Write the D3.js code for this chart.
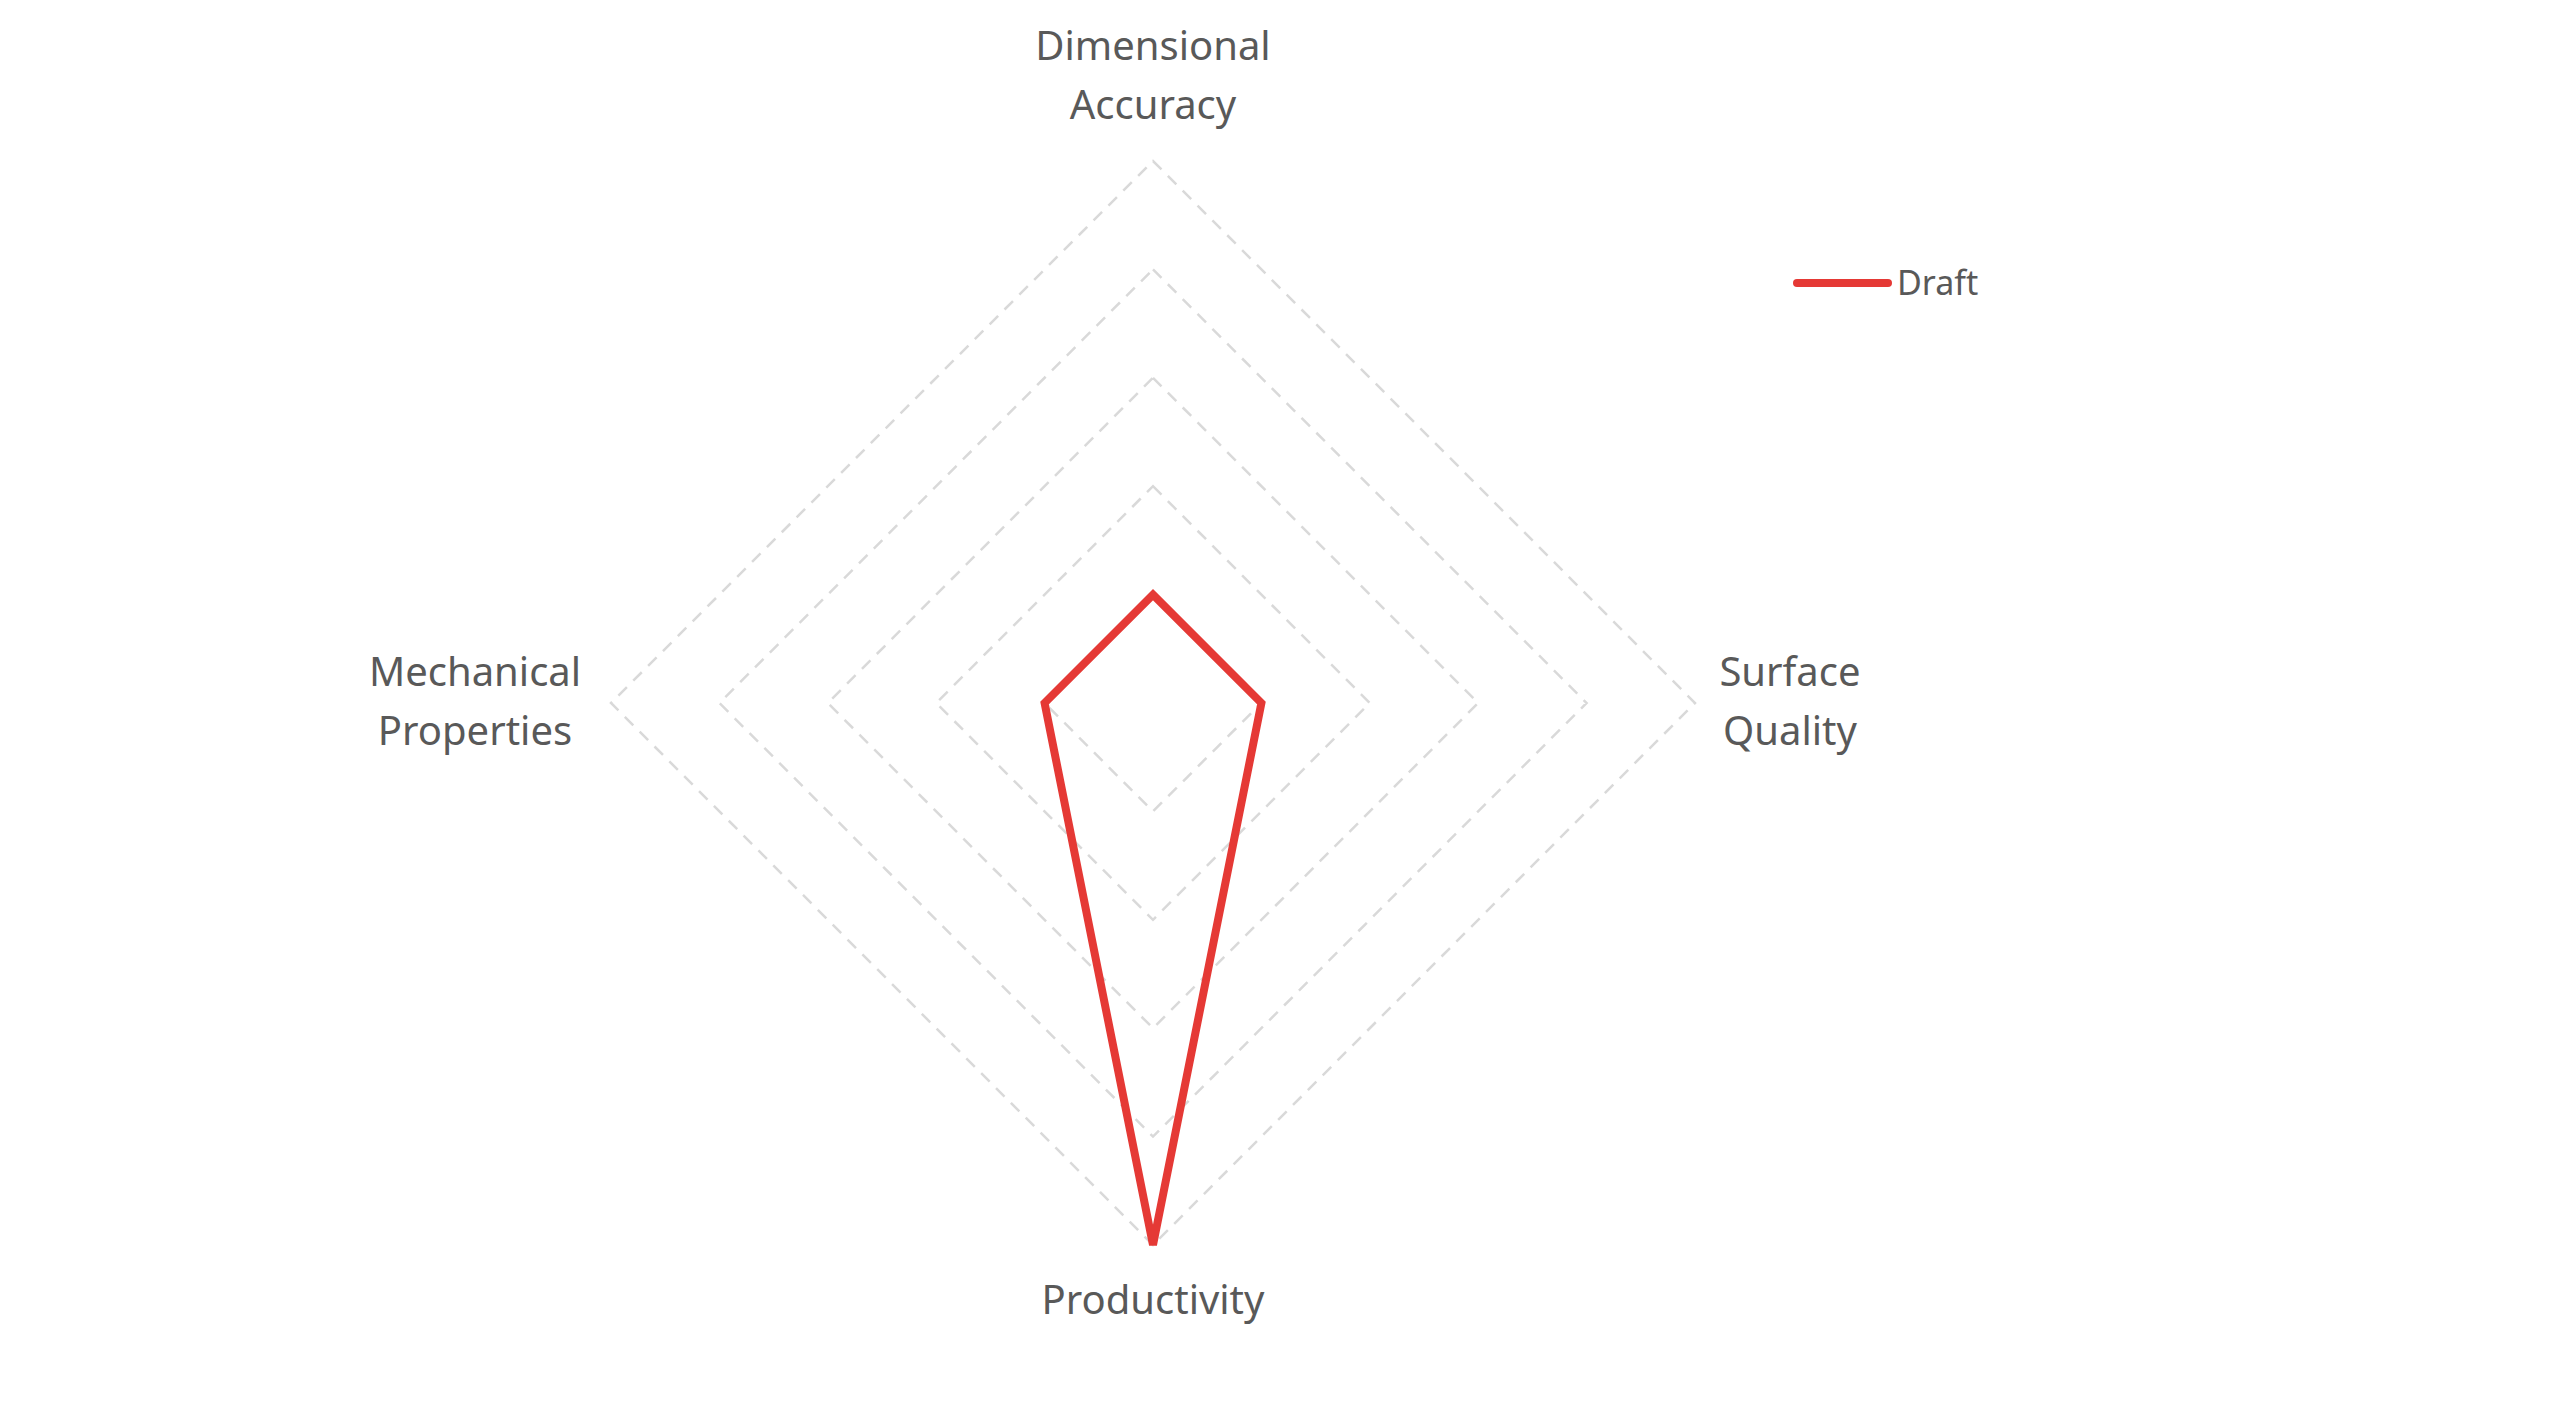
<!DOCTYPE html>
<html><head><meta charset="utf-8">
<script src="https://cdn.jsdelivr.net/npm/d3@7"></script>
<style>body{margin:0;background:#fff}</style></head>
<body><svg id="c" width="2558" height="1407"></svg>
<script>
const axes = [["Dimensional","Accuracy"],["Surface","Quality"],["Productivity"],["Mechanical","Properties"]];
const seriesName = "Draft";
const draftValues = [1, 1, 5, 1];
const ringLevels = [1, 2, 3, 4, 5];

const svg = d3.select("#c");
const cx = 1153, cy = 703, R = 542;
const r = d3.scaleLinear().domain([0, 5]).range([0, R]);
const ang = d3.scaleLinear().domain([0, axes.length]).range([0, 2*Math.PI]);
const pt = (i, v) => [cx + r(v)*Math.sin(ang(i)), cy - r(v)*Math.cos(ang(i))];
const line = d3.line().curve(d3.curveLinearClosed);

svg.selectAll(".ring").data(ringLevels).enter().append("path")
  .attr("d", l => line(axes.map((a, i) => pt(i, l))))
  .attr("fill", "none").attr("stroke", "#d9d9d9").attr("stroke-width", 2.5)
  .attr("stroke-dasharray", "12,9");

svg.append("path").attr("d", line(draftValues.map((v, i) => pt(i, v))))
  .attr("fill", "none").attr("stroke", "#e53935").attr("stroke-width", 8)
  .attr("stroke-linejoin", "miter");

const font = "'Noto Sans', sans-serif";
const labelPos = [[1153, 46], [1790, 672], [1153, 1300], [475, 672]];
axes.forEach((lines, i) => {
  const t = svg.append("text").attr("text-anchor", "middle").attr("font-family", font)
    .attr("font-size", 40).attr("fill", "#595959");
  lines.forEach((s, k) => t.append("tspan").attr("x", labelPos[i][0])
    .attr("y", labelPos[i][1] + k*59).attr("dy", "0.35em").text(s));
});

svg.append("line").attr("x1", 1797).attr("x2", 1888).attr("y1", 283).attr("y2", 283)
  .attr("stroke", "#e53935").attr("stroke-width", 8).attr("stroke-linecap", "round");
svg.append("text").attr("x", 1897).attr("y", 283).attr("dy", "0.35em")
  .attr("font-family", font).attr("font-size", 34).attr("fill", "#595959").text(seriesName);
</script></body></html>
